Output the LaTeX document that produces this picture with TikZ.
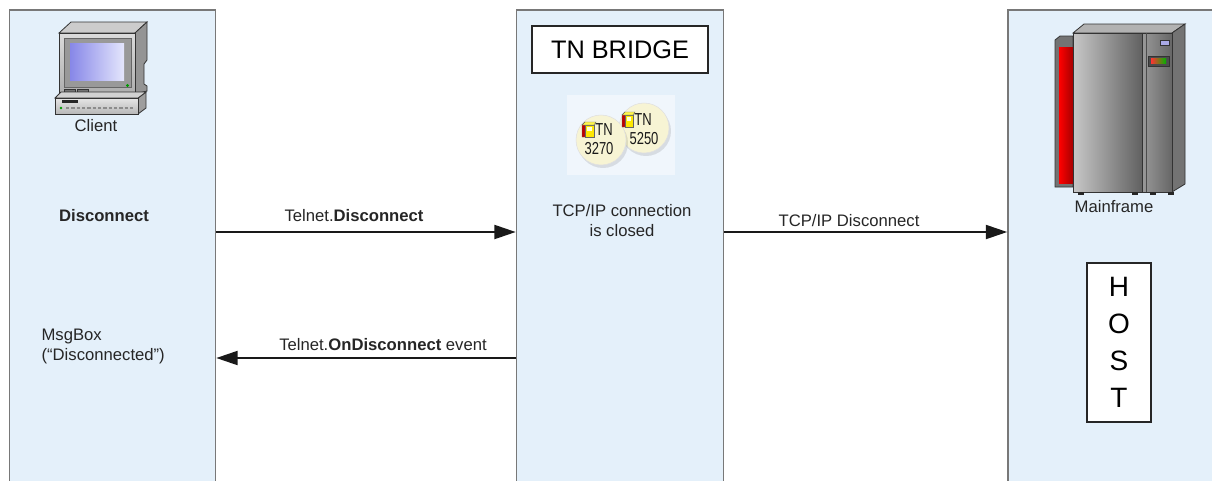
\documentclass[tikz,border=0pt]{standalone}
\usepackage{fontspec}
\setmainfont{Liberation Sans}
\usetikzlibrary{arrows.meta}

\definecolor{lanefill}{RGB}{228,240,250}
\definecolor{laneedge}{RGB}{120,120,120}
\definecolor{cream}{RGB}{247,244,212}
\definecolor{screendark}{RGB}{135,135,232}
\definecolor{screenlight}{RGB}{228,230,252}

\tikzset{
  lane/.style={draw=laneedge, line width=1.2pt, fill=lanefill, inner sep=0pt},
  msg/.style={line width=1.5pt, draw=black!90, -{Triangle[length=16pt,width=10.5pt]}},
  lbl/.style={font=\fontsize{12.5}{15}\selectfont, text=black!85, inner sep=1pt},
  titlebox/.style={draw=black!85, line width=1.1pt, fill=white, inner sep=0pt,
    minimum width=132pt, minimum height=35.25pt, font=\fontsize{19}{22}\selectfont},
  hostbox/.style={draw=black!85, line width=1.1pt, fill=white, inner sep=0pt,
    minimum width=48pt, minimum height=119.25pt, align=center,
    font=\fontsize{21}{27.75}\selectfont},
  outl/.style={draw=black!80, line width=0.6pt},
  tnlabel/.style={font=\fontsize{13}{13}\selectfont, inner sep=0pt, text=black!90},
  tndisc/.style={fill=cream, draw=black!12, line width=0.4pt},
}

\begin{document}
\begin{tikzpicture}[x=0.75pt, y=-0.75pt]
\useasboundingbox (0,0) rectangle (1212,480);
\fill[white] (0,0) rectangle (1212,480);
\clip (0,0) rectangle (1212,480);

% ---- the three lanes ----
\node[lane, minimum width=154.5pt, minimum height=367.5pt] (client) at (112.5,255) {};
\node[lane, minimum width=155.25pt, minimum height=367.5pt] (bridge) at (620,255) {};
\node[lane, minimum width=174pt, minimum height=367.5pt] (host) at (1124,255) {};

% ---- client workstation ----
\begin{scope}[outl]
  % monitor
  \filldraw[fill=black!20] (59,33) -- (71,22) -- (147,22) -- (135,33) -- cycle;
  \filldraw[fill=black!42] (135,33) -- (147,22) -- (147,60) -- (144,64) -- (144,84)
      -- (147,86) -- (147,91) -- (135,94) -- cycle;
  \draw[top color=black!14, bottom color=black!32] (59,33) rectangle (135,94);
  \draw[fill=black!40, draw=black!60, line width=0.4pt] (64,38) rectangle (131,87);
  \path[left color=screendark, right color=screenlight] (70,43) rectangle (124,80);
  \fill[green!60!black] (127.5,85.5) circle (1.6);
  \draw[fill=black!55, line width=0.4pt] (64,89) rectangle (75,93);
  \draw[fill=black!55, line width=0.4pt] (77,89) rectangle (88,93);
  % keyboard base
  \filldraw[fill=black!38] (138,98) -- (146,92) -- (146,108) -- (138,114) -- cycle;
  \filldraw[fill=black!18] (55,98) -- (61,92) -- (146,92) -- (138,98) -- cycle;
  \draw[top color=black!10, bottom color=black!28] (55,98) rectangle (138,114);
  \fill[black!85] (62,100) rectangle (78,102.5);
  \draw[black!45, line width=1pt, dash pattern=on 2.5pt off 1.5pt] (66,108) -- (134,108);
  \fill[green!60!black] (61,108) circle (1.3);
\end{scope}
\node[lbl] (clientname) at (96,126) {Client};

% ---- mainframe ----
\begin{scope}[outl]
  \filldraw[fill=black!55] (1055,40) -- (1060,36) -- (1073,36) -- (1073,187) -- (1055,187) -- cycle;
  \path[left color=red, right color=red!65!black] (1059,47) rectangle (1073,183);
  \filldraw[fill=black!30] (1073,33) -- (1084,24) -- (1185,24) -- (1172,33) -- cycle;
  \filldraw[fill=black!55] (1172,33) -- (1185,24) -- (1185,184) -- (1172,192) -- cycle;
  \draw[left color=black!22, right color=black!62] (1073,33) rectangle (1142,192);
  \draw[left color=black!40, right color=black!60] (1142,33) rectangle (1172,192);
  \draw[black!70, line width=0.4pt] (1146,33) -- (1146,192);
  \draw[fill={rgb,255:red,170;green,170;blue,230}, line width=0.4pt] (1160,40) rectangle (1169,45);
  \draw[fill=black!70, line width=0.4pt] (1148,56) rectangle (1169,66);
  \path[left color=red!80, right color=green!70!black] (1151,58.5) rectangle (1166,63.5);
  \fill[black!85] (1078,192) rectangle (1084,195);
  \fill[black!85] (1132,192) rectangle (1138,195);
  \fill[black!85] (1150,192) rectangle (1156,195);
  \fill[black!85] (1168,192) rectangle (1174,195);
\end{scope}
\node[lbl] (mainframename) at (1114,207) {Mainframe};

% ---- bridge title and emulator badges ----
\node[titlebox] (bridgetitle) at (620,49.5) {TN BRIDGE};

\fill[white, opacity=0.45] (567,95) rectangle (675,175);
\fill[black, opacity=0.10] (646,131) circle (25);
\draw[tndisc] (644,128) circle (25);
\fill[black, opacity=0.10] (603,143) circle (25);
\draw[tndisc] (601,140) circle (25);

% small package glyphs
\begin{scope}[line width=0.3pt]
  \filldraw[fill=red!75!black, draw=black!60] (582,125) -- (585,122) -- (585,137) -- (582,137) -- cycle;
  \filldraw[fill=yellow!90!orange, draw=black!60] (585,125) rectangle (594,137);
  \filldraw[fill=yellow!70, draw=black!60] (582,125) -- (585,122) -- (596,122) -- (594,125) -- cycle;
  \fill[white!85!yellow] (587,127) rectangle (592,131);
  \filldraw[fill=red!75!black, draw=black!60] (622,115) -- (625,112) -- (625,127) -- (622,127) -- cycle;
  \filldraw[fill=yellow!90!orange, draw=black!60] (625,115) rectangle (633,127);
  \filldraw[fill=yellow!70, draw=black!60] (622,115) -- (625,112) -- (635,112) -- (633,115) -- cycle;
  \fill[white!85!yellow] (627,117) rectangle (631,121);
\end{scope}
\node[tnlabel] (tnA) at (604,130) {\scalebox{0.75}[1]{TN}};
\node[tnlabel] (numA) at (599,149) {\scalebox{0.75}[1]{3270}};
\node[tnlabel] (tnB) at (643,120) {\scalebox{0.75}[1]{TN}};
\node[tnlabel] (numB) at (644,139) {\scalebox{0.75}[1]{5250}};

\node[lbl, align=center] (closed) at (622,221) {TCP/IP connection\\is closed};

% ---- host block ----
\node[hostbox] (hostbox) at (1119,342.5) {H\\O\\S\\T};

% ---- client side texts ----
\node[lbl] (disc) at (104,216) {\textbf{Disconnect}};
\node[lbl, align=left, anchor=west] (msgbox) at (40,346) {MsgBox\\(“Disconnected”)};

% ---- messages ----
\draw[msg] (client.east |- 0,232) -- (bridge.west |- 0,232);
\node[lbl] (m1) at (354,216) {Telnet.\textbf{Disconnect}};

\draw[msg] (bridge.east |- 0,232) -- (host.west |- 0,232);
\node[lbl] (m2) at (849,221) {TCP/IP Disconnect};

\draw[msg] (bridge.west |- 0,358) -- (client.east |- 0,358);
\node[lbl] (m3) at (383,345) {Telnet.\textbf{OnDisconnect} event};
\end{tikzpicture}
\end{document}
